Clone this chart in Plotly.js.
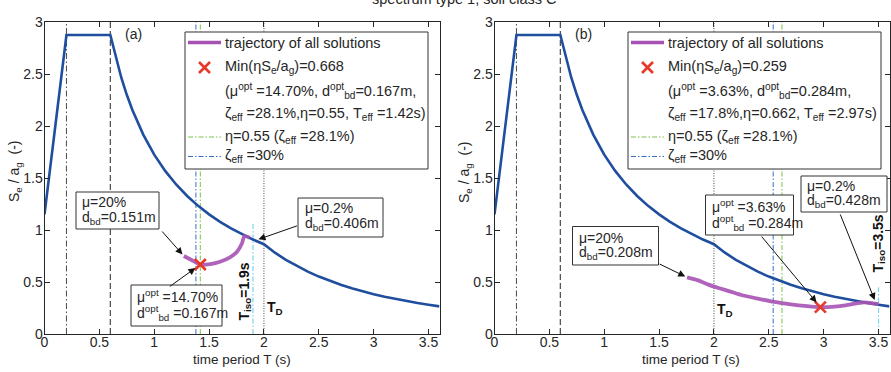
<!DOCTYPE html>
<html>
<head>
<meta charset="utf-8">
<script src="https://cdn.plot.ly/plotly-3.0.1.min.js"></script>
<style>
  html, body { margin: 0; padding: 0; background: #fff; }
  #chart { width: 891px; height: 372px; }
</style>
</head>
<body>
<div id="chart"></div>
<script>
// Elastic response spectrum Se/ag, type 1, soil class C (sampled)
const specT = [0, 0.2, 0.6, 0.65, 0.7, 0.75, 0.8, 0.9, 1.0, 1.1, 1.2, 1.3, 1.4, 1.5, 1.6, 1.7, 1.8, 1.9, 2.0,
               2.1, 2.2, 2.3, 2.4, 2.5, 2.6, 2.7, 2.8, 2.9, 3.0, 3.1, 3.2, 3.3, 3.4, 3.5, 3.6];
const specY = [1.15, 2.875, 2.875, 2.654, 2.464, 2.300, 2.156, 1.917, 1.725, 1.568, 1.438, 1.327, 1.232, 1.150,
               1.078, 1.015, 0.958, 0.908, 0.863, 0.782, 0.713, 0.652, 0.599, 0.552, 0.510, 0.473, 0.440,
               0.410, 0.383, 0.359, 0.337, 0.317, 0.298, 0.282, 0.266];

// corner periods TB, TC, TD
const cornerT = [0.2, 0.6, 2.0];

// trajectory of all solutions, panel (a)
const trajT_a = [1.27, 1.34, 1.42, 1.51, 1.60, 1.69, 1.755, 1.80, 1.822, 1.87];
const trajY_a = [0.75, 0.712, 0.668, 0.673, 0.695, 0.737, 0.791, 0.872, 0.942, 0.925];
// trajectory of all solutions, panel (b)
const trajT_b = [1.755, 1.85, 1.95, 2.05, 2.15, 2.25, 2.4, 2.55, 2.7, 2.85, 2.97, 3.1, 3.2, 3.3, 3.37, 3.45, 3.5];
const trajY_b = [0.545, 0.518, 0.475, 0.44, 0.408, 0.375, 0.34, 0.308, 0.285, 0.268, 0.259, 0.264, 0.276,
                 0.295, 0.305, 0.295, 0.287];

// optimum per panel: effective period and min(eta*Se/ag)
const optT = [1.42, 2.97];
const optY = [0.668, 0.259];
// vertical reference periods per panel
const etaT = [1.42, 2.62];     // eta = 0.55
const zetaT = [1.38, 2.54];    // zeta_eff = 30%
const isoT = [1.9, 3.5];       // isolation period
const isoTop = [1.06, 0.45];
// annotation values per panel
const muOpt = ['14.70%', '3.63%'];
const dOpt = ['0.167', '0.284'];
const zetaEff = ['28.1%', '17.8%'];
const etaOpt = ['0.55', '0.662'];
const muStart = ['20%', '20%'];
const dStart = ['0.151', '0.208'];
const muEnd = ['0.2%', '0.2%'];
const dEnd = ['0.406', '0.428'];
const panelTag = ['(a)', '(b)'];

const W = 891, H = 372;
const px = v => v / W;
const py = v => 1 - v / H;
const FONT = 'Liberation Sans, Arial, sans-serif';
const INK = '#262626';

const C = {
  spec: '#1f4e9f', traj: '#a652b4', opt: '#e8382a',
  eta: '#7cc24c', zeta: '#3a6ec6', iso: '#7fd3ec', ref: '#4a4a4a'
};

const traces = [];
const layoutShapes = [];
const ann = [];

const xDom = [[44.5 / W, 439.5 / W], [494.5 / W, 889.5 / W]];
const offs = [0, 450];

function vline(xa, ya, t, top, color, dash, width) {
  traces.push({ x: [t, t], y: [0, top], xaxis: xa, yaxis: ya, mode: 'lines',
    line: { color: color, dash: dash, width: width }, hoverinfo: 'skip', showlegend: false });
}

for (let p = 0; p < 2; p++) {
  const xa = p ? 'x2' : 'x', ya = p ? 'y2' : 'y';
  const o = offs[p];
  const trajT = p ? trajT_b : trajT_a, trajY = p ? trajY_b : trajY_a;

  vline(xa, ya, cornerT[0], 3, C.ref, '6px,2.5px,1.5px,2.5px', 1);
  vline(xa, ya, cornerT[1], 3, C.ref, '6px,3px', 1.2);
  vline(xa, ya, cornerT[2], 3, C.ref, '1px,1.5px', 1);
  vline(xa, ya, zetaT[p], 3, C.zeta, '5px,2px,1.5px,2px', 1);
  vline(xa, ya, etaT[p], 3, C.eta, '5px,2px,1.5px,2px', 1);
  vline(xa, ya, isoT[p], isoTop[p], C.iso, '5px,2px,1.5px,2px', 1.2);

  traces.push({ x: specT, y: specY, xaxis: xa, yaxis: ya, mode: 'lines',
    line: { color: C.spec, width: 2.6 }, hoverinfo: 'skip', showlegend: false });
  traces.push({ x: trajT, y: trajY, xaxis: xa, yaxis: ya, mode: 'lines',
    line: { color: C.traj, width: 3.8, shape: 'spline', smoothing: 0.6 }, opacity: 0.9,
    hoverinfo: 'skip', showlegend: false });
  traces.push({ x: [optT[p]], y: [optY[p]], xaxis: xa, yaxis: ya, mode: 'markers',
    marker: { symbol: 'x-thin', size: 11, line: { color: C.opt, width: 2.6 } },
    hoverinfo: 'skip', showlegend: false });

  // legend box
  const lx0 = p ? 628 : 185, lx1 = p ? 881 : 428;
  layoutShapes.push({ type: 'rect', xref: 'paper', yref: 'paper', layer: 'above',
    x0: px(lx0), x1: px(lx1), y0: py(169), y1: py(32),
    fillcolor: '#fff', line: { color: '#333', width: 1 } });
  const sx0 = lx0 + 3, sx1 = lx0 + 36, tx = lx0 + 38;
  layoutShapes.push({ type: 'line', xref: 'paper', yref: 'paper', layer: 'above',
    x0: px(sx0), x1: px(sx1), y0: py(42.5), y1: py(42.5), line: { color: C.traj, width: 3.5 } });
  const cx = (sx0 + sx1) / 2, cy = 67.5, r = 5.5;
  layoutShapes.push({ type: 'line', xref: 'paper', yref: 'paper', layer: 'above',
    x0: px(cx - r), x1: px(cx + r), y0: py(cy - r), y1: py(cy + r), line: { color: C.opt, width: 2.6 } });
  layoutShapes.push({ type: 'line', xref: 'paper', yref: 'paper', layer: 'above',
    x0: px(cx - r), x1: px(cx + r), y0: py(cy + r), y1: py(cy - r), line: { color: C.opt, width: 2.6 } });
  layoutShapes.push({ type: 'line', xref: 'paper', yref: 'paper', layer: 'above',
    x0: px(sx0), x1: px(sx1), y0: py(137), y1: py(137), line: { color: C.eta, width: 1, dash: '5px,2px,1.5px,2px' } });
  layoutShapes.push({ type: 'line', xref: 'paper', yref: 'paper', layer: 'above',
    x0: px(sx0), x1: px(sx1), y0: py(156.5), y1: py(156.5), line: { color: C.zeta, width: 1, dash: '5px,2px,1.5px,2px' } });

  const legLines = [
    [42.5, 'trajectory of all solutions'],
    [67.5, 'Min(ηS<sub>e</sub>/a<sub>g</sub>)=' + optY[p].toFixed(3)],
    [90.5, '(μ<sup>opt</sup> =' + muOpt[p] + ', d<sup>opt</sup><sub>bd</sub>=' + dOpt[p] + 'm,'],
    [113.5, 'ζ<sub>eff</sub> =' + zetaEff[p] + ',η=' + etaOpt[p] + ', T<sub>eff</sub> =' + optT[p].toFixed(2) + 's)'],
    [137, 'η=0.55 (ζ<sub>eff</sub> =28.1%)'],
    [156.5, 'ζ<sub>eff</sub> =30%']
  ];
  legLines.forEach(([yy, t]) => ann.push({ xref: 'paper', yref: 'paper', x: px(tx), y: py(yy),
    xanchor: 'left', yanchor: 'middle', showarrow: false, text: t, font: { size: 14.5, color: INK } }));

  // panel tag
  ann.push({ xref: 'paper', yref: 'paper', x: px(p ? 583.5 : 133.5), y: py(33.5), xanchor: 'center', yanchor: 'middle',
    showarrow: false, text: panelTag[p], font: { size: 14, color: INK } });

  // axis titles
  ann.push({ xref: 'paper', yref: 'paper', x: px(o + 15), y: py(172), xanchor: 'center', yanchor: 'middle',
    textangle: -90, showarrow: false, text: 'S<sub>e</sub> / a<sub>g</sub>  (-)', font: { size: 14, color: INK } });
  ann.push({ xref: 'paper', yref: 'paper', x: px(p ? 691 : 242), y: py(359), xanchor: 'center', yanchor: 'middle',
    showarrow: false, text: 'time period T (s)', font: { size: 13.5, color: INK } });

  // T_iso and T_D labels
  ann.push({ xref: 'paper', yref: 'paper', x: px(p ? 878.5 : 244.5), y: py(p ? 244 : 292), xanchor: 'center',
    yanchor: 'middle', textangle: -90, showarrow: false,
    text: '<b>T<sub>iso</sub>=' + isoT[p] + 's</b>', font: { size: 14, color: '#111' } });
  ann.push({ xref: 'paper', yref: 'paper', x: px(p ? 725 : 275), y: py(p ? 310 : 308), xanchor: 'center',
    yanchor: 'middle', showarrow: false, text: '<b>T<sub>D</sub></b>', font: { size: 14, color: '#111' } });
}

// callout boxes: [x0, x1, y0, y1, textX, line1Y, line2Y, line1, line2]
const boxes = [
  [76, 159, 192, 229, 80, 202, 217.5, 'μ=' + muStart[0], 'd<sub>bd</sub>=' + dStart[0] + 'm'],
  [131, 222, 285, 326, 135, 296, 312.5, 'μ<sup>opt</sup> =' + muOpt[0], 'd<sup>opt</sup><sub>bd</sub> =' + dOpt[0] + 'm'],
  [298, 383, 198, 237, 302.5, 208, 223.5, 'μ=' + muEnd[0], 'd<sub>bd</sub>=' + dEnd[0] + 'm'],
  [572.5, 658.5, 226.5, 265, 577, 237.5, 253, 'μ=' + muStart[1], 'd<sub>bd</sub>=' + dStart[1] + 'm'],
  [705.5, 793.5, 195, 235, 710, 206, 222.5, 'μ<sup>opt</sup> =' + muOpt[1], 'd<sup>opt</sup><sub>bd</sub> =' + dOpt[1] + 'm'],
  [801, 887, 176, 212, 805, 185.5, 201, 'μ=' + muEnd[1], 'd<sub>bd</sub>=' + dEnd[1] + 'm']
];
boxes.forEach(b => {
  layoutShapes.push({ type: 'rect', xref: 'paper', yref: 'paper', layer: 'above',
    x0: px(b[0]), x1: px(b[1]), y0: py(b[3]), y1: py(b[2]), fillcolor: '#fff', line: { color: '#333', width: 1 } });
  ann.push({ xref: 'paper', yref: 'paper', x: px(b[4]), y: py(b[5]), xanchor: 'left', yanchor: 'middle',
    showarrow: false, text: b[7], font: { size: 14, color: INK } });
  ann.push({ xref: 'paper', yref: 'paper', x: px(b[4]), y: py(b[6]), xanchor: 'left', yanchor: 'middle',
    showarrow: false, text: b[8], font: { size: 14, color: INK } });
});

// arrows: head in data units, tail as pixel offset
function arrow(xa, ya, x, y, ax, ay, standoff) {
  ann.push({ xref: xa, yref: ya, x: x, y: y, ax: ax, ay: ay, text: '', showarrow: true,
    arrowhead: 2, arrowsize: 1.4, arrowwidth: 1, arrowcolor: '#111', standoff: standoff });
}
arrow('x', 'y', trajT_a[0], trajY_a[0], -23, -26, 2);
arrow('x', 'y', optT[0], optY[0], -32, 23, 6);
arrow('x', 'y', 1.95, 0.91, 40, -14, 0);
arrow('x2', 'y2', trajT_b[0], trajY_b[0], -29, -14, 2);
arrow('x2', 'y2', optT[1], optY[1], -60, -72, 6);
arrow('x2', 'y2', 3.465, 0.327, -35, -87, 0);

// figure title (mostly outside the top edge)
ann.push({ xref: 'paper', yref: 'paper', x: px(465), y: py(9), xanchor: 'center', yanchor: 'bottom',
  showarrow: false, text: 'spectrum type 1, soil class C', font: { size: 14.5, color: INK } });

function xaxisDef(dom, anchor) {
  return { domain: dom, anchor: anchor, range: [0, 3.6], tickvals: [0, 0.5, 1, 1.5, 2, 2.5, 3, 3.5],
    ticktext: ['0', '0.5', '1', '1.5', '2', '2.5', '3', '3.5'], ticks: 'inside', ticklen: 5, tickwidth: 1,
    tickcolor: INK, showline: true, linecolor: INK, linewidth: 1, mirror: 'ticks', showgrid: false,
    zeroline: false, tickfont: { size: 14, color: INK }, ticklabelstandoff: -5, fixedrange: true };
}
function yaxisDef(anchor) {
  return { domain: [38 / H, 350 / H], anchor: anchor, range: [0, 3], tickvals: [0, 0.5, 1, 1.5, 2, 2.5, 3],
    ticktext: ['0', '0.5', '1', '1.5', '2', '2.5', '3'], ticks: 'inside', ticklen: 5, tickwidth: 1,
    tickcolor: INK, showline: true, linecolor: INK, linewidth: 1, mirror: 'ticks', showgrid: false,
    zeroline: false, tickfont: { size: 14, color: INK }, ticklabelstandoff: -2, fixedrange: true };
}

const layout = {
  width: W, height: H,
  margin: { l: 0, r: 0, t: 0, b: 0 },
  paper_bgcolor: '#fff', plot_bgcolor: '#fff',
  font: { family: FONT, color: INK },
  showlegend: false,
  xaxis: xaxisDef(xDom[0], 'y'),
  yaxis: yaxisDef('x'),
  xaxis2: xaxisDef(xDom[1], 'y2'),
  yaxis2: yaxisDef('x2'),
  shapes: layoutShapes,
  annotations: ann
};

Plotly.newPlot('chart', traces, layout, { displayModeBar: false, staticPlot: true });
</script>
</body>
</html>
